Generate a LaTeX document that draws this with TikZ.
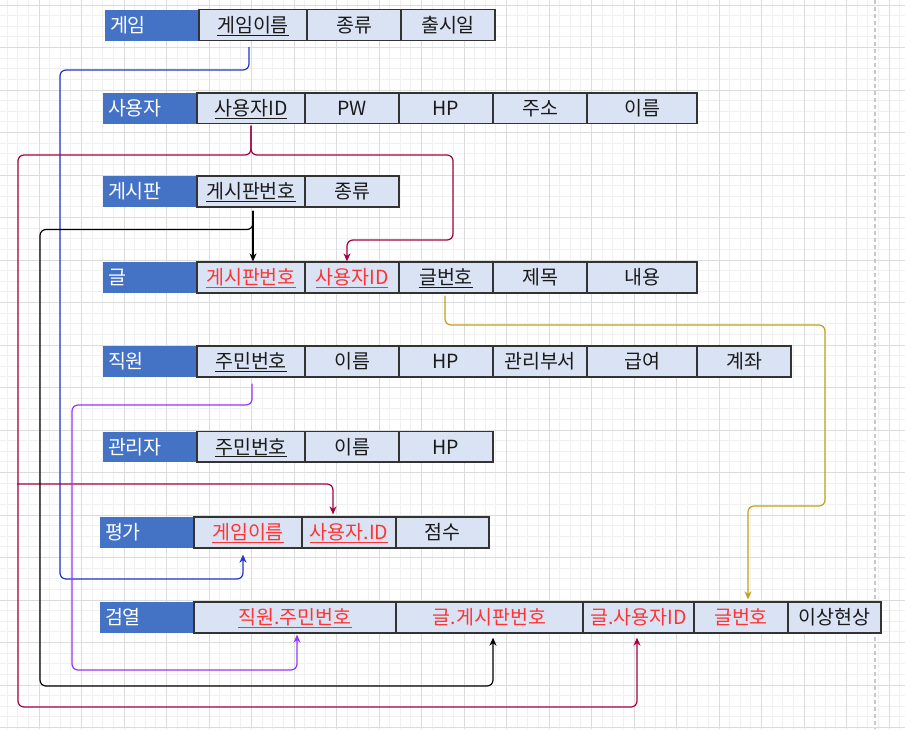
\documentclass[tikz,border=0pt]{standalone}
\usepackage{fontspec}
\setmainfont{Noto Sans CJK KR}
\usetikzlibrary{arrows.meta}
\definecolor{hdrblue}{HTML}{4472C4}
\definecolor{cellfill}{HTML}{DAE3F3}
\definecolor{cellline}{HTML}{333333}
\definecolor{txtdark}{HTML}{1A1A1A}
\definecolor{keyred}{HTML}{FF3333}
\definecolor{lnblue}{HTML}{2233CC}
\definecolor{lncrim}{HTML}{A50040}
\definecolor{lnpurp}{HTML}{9933FF}
\definecolor{lngold}{HTML}{BFA020}
\definecolor{gridminor}{HTML}{F0F0F0}
\definecolor{gridmajor}{HTML}{DCDCDC}
\definecolor{pageline}{HTML}{C8C8C8}
\newcommand\ulin[1]{\setbox0\hbox{#1}\rlap{\smash{\rule[-3.2pt]{\wd0}{1pt}}}\box0}
\newcommand\mkcell[7]{%
  \pgfmathsetmacro\mycw{#4-#3}\pgfmathsetmacro\mych{#6-#5}%
  \pgfmathsetmacro\mycx{(#3+#4)/2}\pgfmathsetmacro\mycy{(#5+#6)/2}%
  \node[#1, minimum width=\mycw pt, minimum height=\mych pt] (#2) at (\mycx,\mycy) {#7};}
\newcommand\mkhdr[6]{%
  \pgfmathsetmacro\mycw{#3-#2-10}\pgfmathsetmacro\mych{#5-#4}%
  \pgfmathsetmacro\mycx{(#2+#3)/2}\pgfmathsetmacro\mycy{(#4+#5)/2}%
  \node[hdrbox, text width=\mycw pt, minimum height=\mych pt] (#1) at (\mycx,\mycy) {#6};}
\tikzset{
  basefont/.style={font=\fontsize{19.5}{22}\selectfont, text height=15pt, text depth=0.2pt},
  cellbox/.style={basefont, draw=cellline, fill=cellfill, line width=1.3pt, inner sep=0pt, text=txtdark},
  keybox/.style={cellbox, text=keyred},
  hdrbox/.style={basefont, fill=hdrblue, inner xsep=5pt, inner ysep=0pt, align=left, text=white},
  conn/.style={line width=1.2pt, rounded corners=6pt},
  arr/.style={-{Stealth[length=8pt,width=7pt,inset=2.5pt]}}
}
\begin{document}
\begin{tikzpicture}[x=1pt,y=-1pt]
\useasboundingbox (0,0) rectangle (905,729);
\fill[white] (0,0) rectangle (905,729);
% grid
\foreach \i in {-3,...,81} \draw[gridminor, line width=0.8pt] ({39+10.625*\i},0) -- ++(0,729);
\foreach \j in {0,...,68} \draw[gridminor, line width=0.8pt] (0,{5+10.625*\j}) -- ++(905,0);
\foreach \i in {0,...,20} \draw[gridmajor, line width=1pt] ({39+42.5*\i},0) -- ++(0,729);
\foreach \j in {0,...,17} \draw[gridmajor, line width=1pt] (0,{5+42.5*\j}) -- ++(905,0);
\draw[pageline, line width=1.2pt, dash pattern=on 4pt off 3pt] (875,0) -- (875,729);

% 게임
\mkhdr{gm}{105}{199}{9.5}{40.5}{게임}
\mkcell{cellbox}{gm1}{199}{307}{9.5}{40.5}{\ulin{게임이름}}
\mkcell{cellbox}{gm2}{307}{401}{9.5}{40.5}{종류}
\mkcell{cellbox}{gm3}{401}{495}{9.5}{40.5}{출시일}
% 사용자
\mkhdr{us}{103}{197}{93}{123.5}{사용자}
\mkcell{cellbox}{us1}{197}{305}{93}{123.5}{\ulin{사용자ID}}
\mkcell{cellbox}{us2}{305}{399}{93}{123.5}{PW}
\mkcell{cellbox}{us3}{399}{493}{93}{123.5}{HP}
\mkcell{cellbox}{us4}{493}{587}{93}{123.5}{주소}
\mkcell{cellbox}{us5}{587}{697}{93}{123.5}{이름}
% 게시판
\mkhdr{bd}{103}{197}{176}{207}{게시판}
\mkcell{cellbox}{bd1}{197}{305}{176}{207}{\ulin{게시판번호}}
\mkcell{cellbox}{bd2}{305}{399}{176}{207}{종류}
% 글
\mkhdr{po}{103}{197}{262}{293}{글}
\mkcell{keybox}{po1}{197}{305}{262}{293}{\ulin{게시판번호}}
\mkcell{keybox}{po2}{305}{399}{262}{293}{\ulin{사용자ID}}
\mkcell{cellbox}{po3}{399}{493}{262}{293}{\ulin{글번호}}
\mkcell{cellbox}{po4}{493}{587}{262}{293}{제목}
\mkcell{cellbox}{po5}{587}{697}{262}{293}{내용}
% 직원
\mkhdr{em}{103}{197}{346}{377}{직원}
\mkcell{cellbox}{em1}{197}{305}{346}{377}{\ulin{주민번호}}
\mkcell{cellbox}{em2}{305}{399}{346}{377}{이름}
\mkcell{cellbox}{em3}{399}{493}{346}{377}{HP}
\mkcell{cellbox}{em4}{493}{587}{346}{377}{관리부서}
\mkcell{cellbox}{em5}{587}{697}{346}{377}{급여}
\mkcell{cellbox}{em6}{697}{791}{346}{377}{계좌}
% 관리자
\mkhdr{ad}{103}{197}{431.5}{462}{관리자}
\mkcell{cellbox}{ad1}{197}{305}{431.5}{462}{\ulin{주민번호}}
\mkcell{cellbox}{ad2}{305}{399}{431.5}{462}{이름}
\mkcell{cellbox}{ad3}{399}{493}{431.5}{462}{HP}
% 평가
\mkhdr{ev}{100}{194}{517}{548}{평가}
\mkcell{keybox}{ev1}{194}{302}{517}{548}{\ulin{게임이름}}
\mkcell{keybox}{ev2}{302}{396}{517}{548}{\ulin{사용자.ID}}
\mkcell{cellbox}{ev3}{396}{489}{517}{548}{점수}
% 검열
\mkhdr{ce}{100}{194}{602}{633}{검열}
\mkcell{keybox}{ce1}{194}{396}{602}{633}{\ulin{직원.주민번호}}
\mkcell{keybox}{ce2}{396}{583}{602}{633}{글.게시판번호}
\mkcell{keybox}{ce3}{583}{694}{602}{633}{글.사용자ID}
\mkcell{keybox}{ce4}{694}{788}{602}{633}{글번호}
\mkcell{cellbox}{ce5}{788}{881}{602}{633}{이상현상}

% connectors
\draw[conn, arr, lnblue] ([xshift=-4pt,yshift=-6pt]gm1.south) |- (60,70) |- (243,579) -- ([xshift=-5pt,yshift=-6pt]ev1.south);
\draw[conn, arr, lncrim] ([yshift=-1.5pt]us1.south) |- (453,155) |- (347,240) -- ([xshift=-5pt]po2.north);
\draw[conn, arr, lncrim] ([yshift=-1.5pt]us1.south) |- (18,155) |- (637,707) -- ([xshift=-1.5pt,yshift=-4pt]ce3.south);
\coordinate (cjoin) at (17,484);
\draw[conn, arr, lncrim] (cjoin) -| ([xshift=-16pt,yshift=2pt]ev2.north);
\draw[conn, arr, black] ([xshift=2pt,yshift=-3pt]bd1.south) -- ([xshift=2pt]po1.north);
\draw[conn, arr, black] ([xshift=2pt,yshift=-3pt]bd1.south) |- (40,229.5) |- (493,686) -- ([xshift=3.5pt,yshift=-4pt]ce2.south);
\draw[conn, arr, lnpurp] ([xshift=1pt,yshift=-6pt]em1.south) |- (72,405) |- (297,670) -- ([xshift=2pt,yshift=-1pt]ce1.south);
\draw[conn, arr, lngold] ([xshift=-1pt,yshift=-2pt]po3.south) |- (825,325) |- (748,506) -- ([xshift=7pt,yshift=2pt]ce4.north);
\end{tikzpicture}
\end{document}
